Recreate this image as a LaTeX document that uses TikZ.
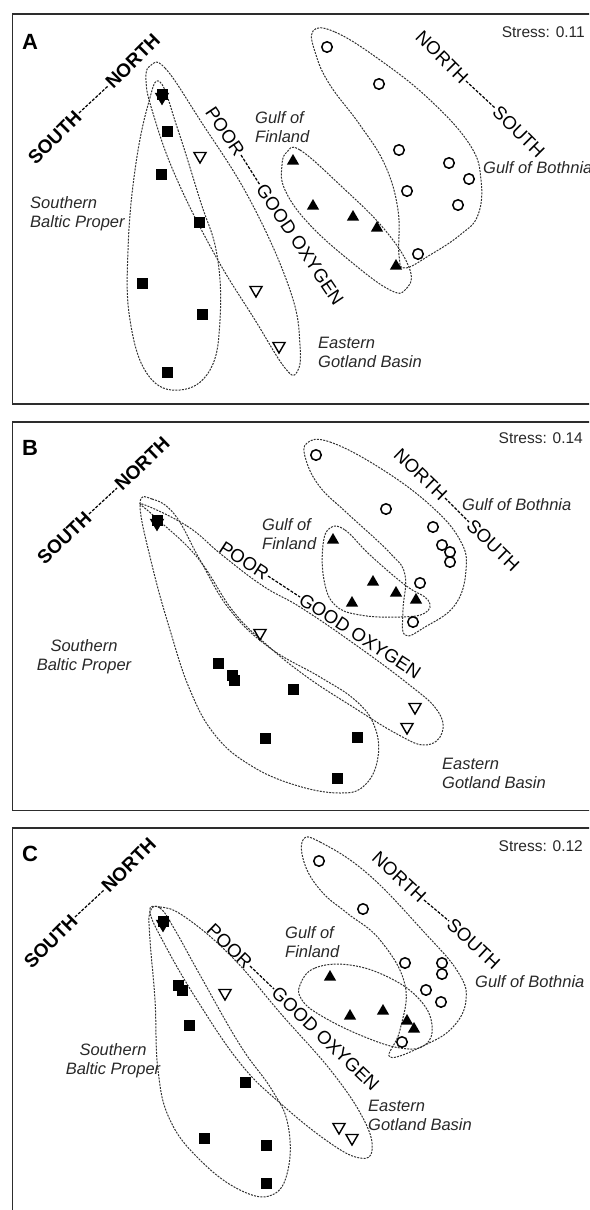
\documentclass[tikz,border=0pt]{standalone}
\usepackage{fontspec}
\setmainfont{Liberation Sans}
\usetikzlibrary{shapes.geometric, calc}
\definecolor{frameLine}{RGB}{45,45,45}
\definecolor{groupLine}{RGB}{50,50,50}
\definecolor{labelInk}{RGB}{40,40,40}
\tikzset{
  panelframe/.style={draw=frameLine, line width=1.4pt},
  panelletter/.style={font=\fontsize{22}{26}\selectfont\bfseries, anchor=base west, inner sep=0pt},
  stress/.style={font=\fontsize{15.5}{18}\selectfont, anchor=base east, inner sep=0pt, text=labelInk},
  axisbold/.style={font=\fontsize{19}{22}\selectfont\bfseries, inner sep=1pt},
  axisplain/.style={font=\fontsize{18.5}{22}\selectfont, inner sep=1pt},
  axisdash/.style={draw=black, line width=1.2pt, dash pattern=on 3pt off 1.5pt},
  region/.style={font=\fontsize{16.5}{19}\selectfont\itshape, inner sep=0pt, text=labelInk},
  groupline/.style={draw=groupLine, line width=1pt, dash pattern=on 2pt off 1.2pt},
  sbp/.style={rectangle, fill=black, minimum size=11pt, inner sep=0pt},
  gob/.style={circle, draw=black, line width=1.5pt, minimum size=10.5pt, inner sep=0pt},
  gof/.style={regular polygon, regular polygon sides=3, fill=black, minimum size=14pt, inner sep=0pt},
  egb/.style={regular polygon, regular polygon sides=3, shape border rotate=180, draw=black, line width=1.4pt, minimum size=14pt, inner sep=0pt},
  egbfull/.style={egb, fill=black}
}
\begin{document}
\begin{tikzpicture}[x=1pt, y=-1pt]
  \useasboundingbox (0,0) rectangle (589,1210);
  \clip (0,0) rectangle (589,1210);

  % panel A
  \draw[panelframe] (12.5,14) rectangle (600,404);
  \node[panelletter] (letterA) at (22,49) {A};
  \node[stress] (stressA) at (585,37) {Stress: 0.11};

  \draw[groupline] plot[smooth cycle, tension=0.7] coordinates {(160,82) (178,130) (200,200) (217,255) (220,320) (210,370) (180,390) (148,375) (130,320) (128,250) (135,170) (148,105)};
  \draw[groupline] plot[smooth cycle, tension=0.7] coordinates {(150,66) (165,68) (200,120) (250,200) (290,290) (300,345) (297,372) (285,368) (255,320) (215,255) (175,175) (152,110) (146,80)};
  \draw[groupline] plot[smooth cycle, tension=0.7] coordinates {(287,152) (300,150) (340,185) (385,230) (410,270) (405,290) (390,290) (355,265) (310,225) (285,190) (282,165)};
  \draw[groupline] plot[smooth cycle, tension=0.7] coordinates {(313,31) (335,32) (380,60) (430,100) (470,145) (481,180) (478,215) (460,235) (430,255) (405,268) (399,255) (398,210) (385,165) (360,125) (330,85) (316,55)};

  \node[sbp] (sbpA1) at (162,94) {};
  \node[egbfull] (egbA0) at (162,97) {};
  \node[sbp] (sbpA2) at (167,131) {};
  \node[sbp] (sbpA3) at (161,174) {};
  \node[sbp] (sbpA4) at (199,222) {};
  \node[sbp] (sbpA5) at (142,283) {};
  \node[sbp] (sbpA6) at (202,314) {};
  \node[sbp] (sbpA7) at (167,372) {};
  \node[egb] (egbA1) at (200,156) {};
  \node[egb] (egbA2) at (256,290) {};
  \node[egb] (egbA3) at (279,346) {};
  \node[gof] (gofA1) at (293,161) {};
  \node[gof] (gofA2) at (313,206) {};
  \node[gof] (gofA3) at (353,217) {};
  \node[gof] (gofA4) at (377,228) {};
  \node[gof] (gofA5) at (396,266) {};
  \node[gob] (gobA1) at (327,47) {};
  \node[gob] (gobA2) at (379,84) {};
  \node[gob] (gobA3) at (399,150) {};
  \node[gob] (gobA4) at (449,163) {};
  \node[gob] (gobA5) at (469,179) {};
  \node[gob] (gobA6) at (407,191) {};
  \node[gob] (gobA7) at (458,205) {};
  \node[gob] (gobA8) at (418,254) {};

  \node[axisbold, rotate=45, anchor=east] (southLeftA) at (79,113) {SOUTH};
  \node[axisbold, rotate=45, anchor=west] (northLeftA) at (108,86) {NORTH};
  \draw[axisdash] (southLeftA.east) -- (northLeftA.west);
  \node[axisplain, rotate=-56, anchor=east] (poorA) at (241,155) {POOR};
  \node[axisplain, rotate=-56, anchor=west] (goodA) at (260,185) {GOOD OXYGEN};
  \draw[axisdash] (poorA.east) -- (goodA.west);
  \node[axisplain, rotate=-45, anchor=east] (northRightA) at (466,81) {NORTH};
  \node[axisplain, rotate=-45, anchor=west] (southRightA) at (495,108) {SOUTH};
  \draw[axisdash] (northRightA.east) -- (southRightA.west);

  \node[region, align=left, anchor=base west] (sbpTextA) at (30,227) {Southern\\Baltic Proper};
  \node[region, align=left, anchor=base west] (gofTextA) at (255,142) {Gulf of\\Finland};
  \node[region, anchor=base west] (gobTextA) at (483,173) {Gulf of Bothnia};
  \node[region, align=left, anchor=base west] (egbTextA) at (318,367) {Eastern\\Gotland Basin};

  % panel B
  \draw[panelframe] (12.5,422) rectangle (600,810.5);
  \node[panelletter] (letterB) at (22,455) {B};
  \node[stress] (stressB) at (583,443) {Stress: 0.14};

  \draw[groupline] plot[smooth cycle, tension=0.7] coordinates {(140,505) (152,499) (175,515) (200,560) (230,610) (270,648) (320,677) (355,700) (374,725) (378,757) (365,785) (340,793) (295,785) (250,765) (215,735) (190,690) (170,630) (152,565)};
  \draw[groupline] plot[smooth cycle, tension=0.7] coordinates {(142,504) (187,526) (222,555) (263,586) (300,607) (353,643) (407,683) (437,710) (442,733) (425,745) (397,734) (353,707) (307,677) (267,645) (233,611) (197,557) (155,517)};
  \draw[groupline] plot[smooth cycle, tension=0.7] coordinates {(330,528) (345,530) (370,555) (405,585) (428,600) (425,613) (400,617) (360,615) (335,605) (324,580) (323,545)};
  \draw[groupline] plot[smooth cycle, tension=0.7] coordinates {(307,443) (330,442) (380,468) (430,505) (460,540) (466,570) (455,605) (425,627) (405,635) (403,610) (405,575) (390,553) (347,513) (320,487) (306,460)};

  \node[sbp] (sbpB1) at (157,520) {};
  \node[egbfull] (egbB0) at (157,523) {};
  \node[sbp] (sbpB2) at (218,663) {};
  \node[sbp] (sbpB3) at (232,675) {};
  \node[sbp] (sbpB4) at (234,680) {};
  \node[sbp] (sbpB5) at (293,689) {};
  \node[sbp] (sbpB6) at (265,738) {};
  \node[sbp] (sbpB7) at (357,737) {};
  \node[sbp] (sbpB8) at (337,778) {};
  \node[egb] (egbB1) at (260,633) {};
  \node[egb] (egbB2) at (415,707) {};
  \node[egb] (egbB3) at (407,727) {};
  \node[gof] (gofB1) at (333,540) {};
  \node[gof] (gofB2) at (373,582) {};
  \node[gof] (gofB3) at (396,593) {};
  \node[gof] (gofB4) at (352,603) {};
  \node[gof] (gofB5) at (416,600) {};
  \node[gob] (gobB1) at (316,455) {};
  \node[gob] (gobB2) at (386,509) {};
  \node[gob] (gobB3) at (433,527) {};
  \node[gob] (gobB4) at (442,545) {};
  \node[gob] (gobB5) at (450,552) {};
  \node[gob] (gobB6) at (450,562) {};
  \node[gob] (gobB7) at (420,583) {};
  \node[gob] (gobB8) at (413,622) {};

  \node[axisbold, rotate=44, anchor=east] (southLeftB) at (89,514) {SOUTH};
  \node[axisbold, rotate=44, anchor=west] (northLeftB) at (117,488) {NORTH};
  \draw[axisdash] (southLeftB.east) -- (northLeftB.west);
  \node[axisplain, rotate=-33, anchor=east] (poorB) at (268,576) {POOR};
  \node[axisplain, rotate=-33, anchor=west] (goodB) at (300,597) {GOOD OXYGEN};
  \draw[axisdash] (poorB.east) -- (goodB.west);
  \node[axisplain, rotate=-44, anchor=east] (northRightB) at (445,498) {NORTH};
  \node[axisplain, rotate=-44, anchor=west] (southRightB) at (469,522) {SOUTH};
  \draw[axisdash] (northRightB.east) -- (southRightB.west);

  \node[region, align=center, anchor=base] (sbpTextB) at (84,670) {Southern\\Baltic Proper};
  \node[region, align=left, anchor=base west] (gofTextB) at (262,549) {Gulf of\\Finland};
  \node[region, anchor=base west] (gobTextB) at (462,510) {Gulf of Bothnia};
  \node[region, align=left, anchor=base west] (egbTextB) at (442,788) {Eastern\\Gotland Basin};

  % panel C
  \draw[panelframe] (12.5,828) rectangle (600,1230);
  \node[panelletter] (letterC) at (22,861) {C};
  \node[stress] (stressC) at (583,851) {Stress: 0.12};

  \draw[groupline] plot[smooth cycle, tension=0.7] coordinates {(150,912) (160,908) (175,930) (200,975) (240,1045) (272,1090) (288,1125) (288,1170) (272,1195) (240,1190) (200,1160) (170,1120) (158,1070) (155,1000) (150,940)};
  \draw[groupline] plot[smooth cycle, tension=0.7] coordinates {(150,912) (160,907) (185,917) (232,957) (282,1015) (332,1072) (364,1120) (372,1150) (360,1158) (330,1143) (280,1103) (240,1063) (197,1000) (165,945)};
  \draw[groupline] plot[smooth cycle, tension=0.7] coordinates {(300,985) (315,968) (350,965) (390,978) (420,1000) (432,1025) (425,1045) (400,1048) (360,1035) (320,1015) (302,1000)};
  \draw[groupline] plot[smooth cycle, tension=0.7] coordinates {(303,840) (320,842) (368,874) (424,932) (458,972) (466,1000) (453,1027) (425,1045) (390,1057) (400,1030) (405,985) (380,940) (347,913) (322,892) (305,865)};

  \node[sbp] (sbpC1) at (163,921) {};
  \node[egbfull] (egbC0) at (163,924) {};
  \node[sbp] (sbpC2) at (178,985) {};
  \node[sbp] (sbpC3) at (182,990) {};
  \node[sbp] (sbpC4) at (189,1025) {};
  \node[sbp] (sbpC5) at (245,1082) {};
  \node[sbp] (sbpC6) at (204,1138) {};
  \node[sbp] (sbpC7) at (266,1145) {};
  \node[sbp] (sbpC8) at (266,1183) {};
  \node[egb] (egbC1) at (225,993) {};
  \node[egb] (egbC2) at (339,1127) {};
  \node[egb] (egbC3) at (352,1138) {};
  \node[gof] (gofC1) at (330,977) {};
  \node[gof] (gofC2) at (350,1016) {};
  \node[gof] (gofC3) at (383,1011) {};
  \node[gof] (gofC4) at (407,1021) {};
  \node[gof] (gofC5) at (414,1029) {};
  \node[gob] (gobC1) at (319,861) {};
  \node[gob] (gobC2) at (363,909) {};
  \node[gob] (gobC3) at (405,963) {};
  \node[gob] (gobC4) at (442,963) {};
  \node[gob] (gobC5) at (442,974) {};
  \node[gob] (gobC6) at (426,990) {};
  \node[gob] (gobC7) at (441,1002) {};
  \node[gob] (gobC8) at (402,1042) {};

  \node[axisbold, rotate=45, anchor=east] (southLeftC) at (75,917) {SOUTH};
  \node[axisbold, rotate=45, anchor=west] (northLeftC) at (104,890) {NORTH};
  \draw[axisdash] (southLeftC.east) -- (northLeftC.west);
  \node[axisplain, rotate=-44, anchor=east] (poorC) at (250,966) {POOR};
  \node[axisplain, rotate=-44, anchor=west] (goodC) at (274,989) {GOOD OXYGEN};
  \draw[axisdash] (poorC.east) -- (goodC.west);
  \node[axisplain, rotate=-43, anchor=east] (northRightC) at (424,900) {NORTH};
  \node[axisplain, rotate=-43, anchor=west] (southRightC) at (449,921) {SOUTH};
  \draw[axisdash] (northRightC.east) -- (southRightC.west);

  \node[region, align=center, anchor=base] (sbpTextC) at (113,1074) {Southern\\Baltic Proper};
  \node[region, align=left, anchor=base west] (gofTextC) at (285,957) {Gulf of\\Finland};
  \node[region, anchor=base west] (gobTextC) at (475,987) {Gulf of Bothnia};
  \node[region, align=left, anchor=base west] (egbTextC) at (368,1130) {Eastern\\Gotland Basin};
\end{tikzpicture}
\end{document}
